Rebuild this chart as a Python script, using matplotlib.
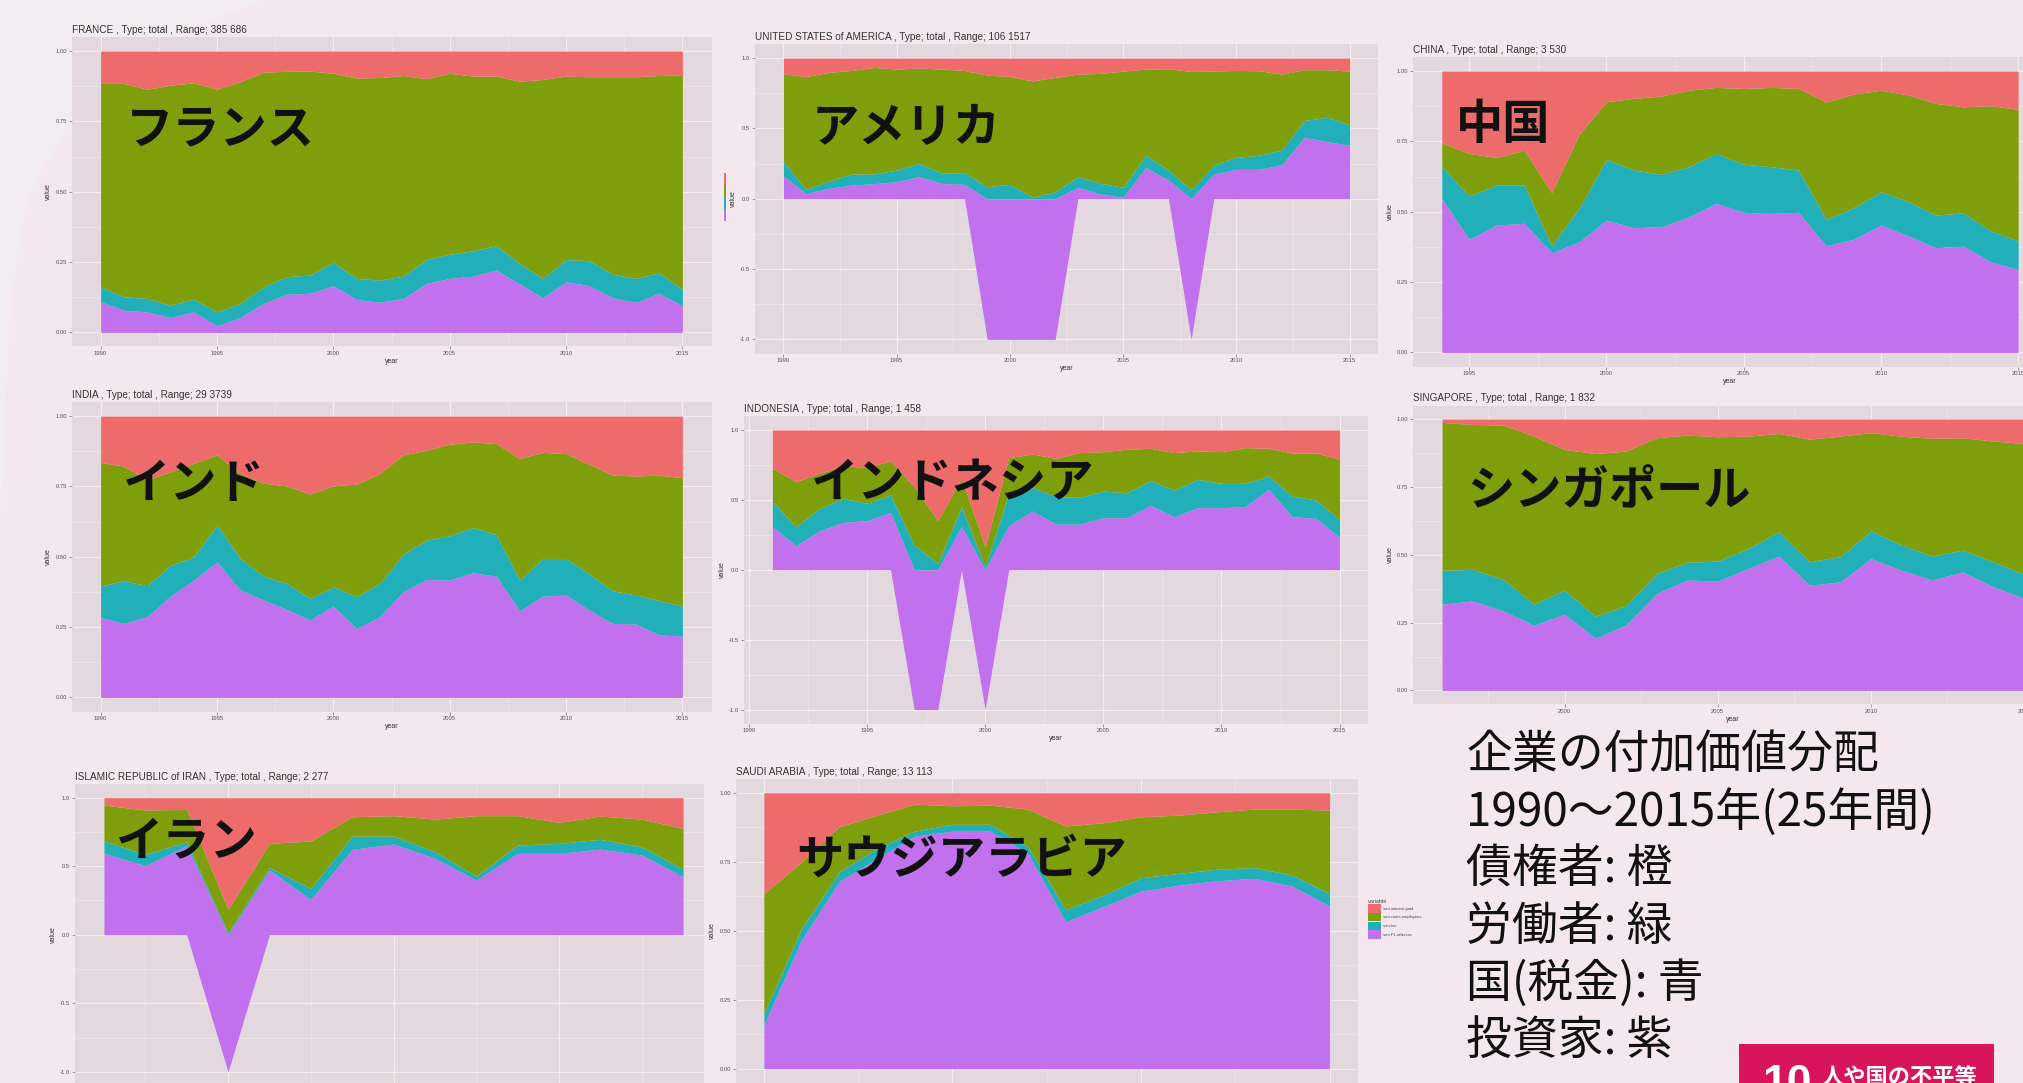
import numpy as np
import matplotlib
matplotlib.use("Agg")
import matplotlib.pyplot as plt
from matplotlib.patches import Rectangle, Patch, Polygon

plt.rcParams['font.family'] = ['Liberation Sans', 'Noto Sans CJK JP', 'DejaVu Sans']

W, H = 2023, 1083
BG = '#f4e7ee'
PANEL = '#e2d8de'
RED = '#ee6b6c'
GREEN = '#7f9e0b'
TEAL = '#21b0b9'
PURPLE = '#c171ee'
JP = ['Noto Sans CJK JP', 'DejaVu Sans']

VARIABLES = ['sum.interest.paid', 'sum.costs.employees', 'sum.tax', 'sum.PL.after.tax']

# ---------------- data (shares of value added) ----------------
FR_YEARS = list(range(1990, 2016))
FR_PL = [0.109, 0.079, 0.073, 0.053, 0.073, 0.024, 0.053, 0.103, 0.136, 0.139, 0.166, 0.117, 0.107,
         0.121, 0.174, 0.192, 0.200, 0.222, 0.172, 0.123, 0.180, 0.166, 0.123, 0.107, 0.139, 0.095]
FR_TAX = [0.053, 0.048, 0.048, 0.044, 0.045, 0.049, 0.050, 0.059, 0.062, 0.065, 0.083, 0.075, 0.079,
          0.079, 0.085, 0.086, 0.090, 0.086, 0.073, 0.069, 0.079, 0.089, 0.084, 0.085, 0.073, 0.058]
FR_COSTS = [0.723, 0.758, 0.743, 0.782, 0.769, 0.792, 0.788, 0.763, 0.730, 0.725, 0.672, 0.712, 0.720,
            0.713, 0.643, 0.643, 0.621, 0.603, 0.648, 0.707, 0.652, 0.654, 0.702, 0.717, 0.701, 0.763]
FR_INTEREST = [0.115, 0.115, 0.136, 0.121, 0.113, 0.135, 0.109, 0.075, 0.072, 0.071, 0.079, 0.096, 0.094,
               0.087, 0.098, 0.079, 0.089, 0.089, 0.107, 0.101, 0.089, 0.091, 0.091, 0.091, 0.087, 0.084]

US_YEARS = list(range(1990, 2016))
US_PL = [0.162, 0.038, 0.074, 0.097, 0.107, 0.121, 0.157, 0.109, 0.102, -1.0, -1.0, -1.0, -1.0,
         0.081, 0.033, 0.010, 0.221, 0.133, -1.0, 0.176, 0.209, 0.209, 0.242, 0.437, 0.406, 0.380]
US_TAX = [0.102, 0.029, 0.052, 0.079, 0.069, 0.083, 0.095, 0.072, 0.083, 0.086, 0.102, 0.010, 0.050,
          0.076, 0.076, 0.071, 0.088, 0.071, 0.062, 0.064, 0.086, 0.100, 0.105, 0.119, 0.174, 0.145]
US_COSTS = [0.624, 0.802, 0.772, 0.736, 0.757, 0.718, 0.677, 0.741, 0.727, 0.793, 0.767, 0.828, 0.812,
            0.729, 0.782, 0.826, 0.613, 0.720, 0.843, 0.667, 0.617, 0.601, 0.539, 0.361, 0.337, 0.382]
US_INTEREST = [0.112, 0.131, 0.102, 0.088, 0.067, 0.078, 0.071, 0.078, 0.088, 0.121, 0.131, 0.162, 0.138,
               0.114, 0.109, 0.093, 0.078, 0.076, 0.095, 0.093, 0.088, 0.090, 0.114, 0.083, 0.083, 0.093]

CN_YEARS = list(range(1994, 2016))
CN_PL = [0.547, 0.402, 0.453, 0.459, 0.354, 0.393, 0.470, 0.443, 0.447, 0.482, 0.530,
         0.498, 0.494, 0.498, 0.379, 0.402, 0.453, 0.414, 0.372, 0.378, 0.322, 0.295]
CN_TAX = [0.113, 0.154, 0.142, 0.136, 0.025, 0.119, 0.216, 0.205, 0.186, 0.178, 0.177,
          0.171, 0.166, 0.150, 0.094, 0.112, 0.118, 0.122, 0.116, 0.118, 0.110, 0.101]
CN_COSTS = [0.085, 0.151, 0.098, 0.124, 0.189, 0.263, 0.205, 0.255, 0.278, 0.272, 0.235,
            0.269, 0.282, 0.290, 0.417, 0.404, 0.361, 0.379, 0.397, 0.377, 0.445, 0.468]
CN_INTEREST = [0.255, 0.293, 0.307, 0.281, 0.432, 0.225, 0.109, 0.097, 0.089, 0.068, 0.058,
               0.062, 0.058, 0.062, 0.110, 0.082, 0.068, 0.085, 0.115, 0.127, 0.123, 0.136]

IN_YEARS = list(range(1990, 2016))
IN_PL = [0.284, 0.263, 0.287, 0.360, 0.417, 0.482, 0.382, 0.346, 0.313, 0.275, 0.325, 0.245, 0.287,
         0.376, 0.419, 0.417, 0.443, 0.431, 0.308, 0.360, 0.364, 0.310, 0.263, 0.261, 0.222, 0.218]
IN_TAX = [0.112, 0.152, 0.110, 0.110, 0.083, 0.131, 0.112, 0.085, 0.092, 0.077, 0.068, 0.113, 0.118,
          0.133, 0.140, 0.158, 0.161, 0.148, 0.109, 0.134, 0.130, 0.128, 0.116, 0.103, 0.122, 0.107]
IN_COSTS = [0.439, 0.407, 0.376, 0.332, 0.332, 0.249, 0.302, 0.330, 0.347, 0.371, 0.359, 0.400, 0.391,
            0.353, 0.320, 0.325, 0.304, 0.323, 0.432, 0.377, 0.373, 0.390, 0.411, 0.423, 0.446, 0.456]
IN_INTEREST = [0.165, 0.178, 0.227, 0.198, 0.168, 0.138, 0.204, 0.239, 0.248, 0.277, 0.248, 0.242, 0.204,
               0.138, 0.121, 0.100, 0.092, 0.098, 0.151, 0.129, 0.133, 0.172, 0.210, 0.213, 0.210, 0.219]

ID_YEARS = list(range(1991, 2016))
ID_PL = [0.308, 0.172, 0.279, 0.339, 0.351, 0.411, -1.0, -1.0, 0.308, -1.0, 0.315, 0.420, 0.327,
         0.327, 0.372, 0.372, 0.461, 0.379, 0.444, 0.444, 0.451, 0.575, 0.379, 0.368, 0.232]
ID_TAX = [0.179, 0.136, 0.160, 0.172, 0.124, 0.124, 0.177, 0.045, 0.143, 0.021, 0.232, 0.169, 0.196,
          0.191, 0.191, 0.179, 0.176, 0.191, 0.203, 0.174, 0.167, 0.096, 0.148, 0.131, 0.124]
ID_COSTS = [0.239, 0.322, 0.251, 0.231, 0.258, 0.243, 0.417, 0.306, 0.203, 0.144, 0.255, 0.239, 0.274,
            0.320, 0.282, 0.311, 0.232, 0.268, 0.203, 0.227, 0.256, 0.198, 0.308, 0.336, 0.436]
ID_INTEREST = [0.274, 0.370, 0.310, 0.258, 0.267, 0.222, 0.406, 0.649, 0.346, 0.835, 0.198, 0.172, 0.203,
               0.162, 0.155, 0.138, 0.131, 0.162, 0.150, 0.155, 0.126, 0.131, 0.165, 0.165, 0.208]

SG_YEARS = list(range(1996, 2016))
SG_PL = [0.318, 0.330, 0.293, 0.240, 0.281, 0.192, 0.241, 0.357, 0.407, 0.403,
         0.450, 0.495, 0.388, 0.400, 0.486, 0.443, 0.407, 0.437, 0.382, 0.339]
SG_TAX = [0.125, 0.116, 0.116, 0.078, 0.089, 0.082, 0.071, 0.074, 0.065, 0.074,
          0.073, 0.090, 0.086, 0.093, 0.102, 0.093, 0.088, 0.080, 0.092, 0.089]
SG_COSTS = [0.545, 0.534, 0.569, 0.619, 0.518, 0.599, 0.570, 0.500, 0.469, 0.458,
            0.414, 0.362, 0.452, 0.444, 0.362, 0.401, 0.434, 0.414, 0.445, 0.482]
SG_INTEREST = [0.012, 0.020, 0.022, 0.063, 0.112, 0.127, 0.118, 0.069, 0.059, 0.065,
               0.063, 0.053, 0.074, 0.063, 0.050, 0.063, 0.071, 0.069, 0.081, 0.090]

IR_YEARS = list(range(2001, 2016))
IR_PL = [0.594, 0.504, 0.650, -1.0, 0.472, 0.258, 0.623, 0.662, 0.557, 0.399, 0.594, 0.594, 0.625, 0.582, 0.423]
IR_TAX = [0.090, 0.082, 0.029, 0.015, 0.019, 0.080, 0.097, 0.058, 0.049, 0.029, 0.061, 0.073, 0.071, 0.060, 0.056]
IR_COSTS = [0.262, 0.324, 0.236, 0.170, 0.176, 0.346, 0.141, 0.149, 0.238, 0.441, 0.214, 0.153, 0.170, 0.202, 0.297]
IR_INTEREST = [0.054, 0.090, 0.085, 0.815, 0.333, 0.316, 0.139, 0.131, 0.156, 0.131, 0.131, 0.180, 0.134, 0.156, 0.224]

SA_YEARS = list(range(2000, 2016))
SA_PL = [0.158, 0.466, 0.678, 0.762, 0.843, 0.861, 0.861, 0.780, 0.533, 0.587, 0.644, 0.665, 0.681, 0.690, 0.662, 0.589]
SA_TAX = [0.042, 0.042, 0.036, 0.036, 0.018, 0.025, 0.025, 0.024, 0.044, 0.042, 0.048, 0.043, 0.042, 0.039, 0.040, 0.046]
SA_COSTS = [0.433, 0.242, 0.163, 0.121, 0.098, 0.067, 0.069, 0.137, 0.303, 0.262, 0.221, 0.211, 0.208, 0.212, 0.239, 0.302]
SA_INTEREST = [0.367, 0.250, 0.123, 0.081, 0.041, 0.047, 0.045, 0.059, 0.120, 0.109, 0.087, 0.081, 0.069, 0.059, 0.059, 0.063]

TITLES = {
    'FR': 'FRANCE , Type; total , Range; 385 686',
    'US': 'UNITED STATES of AMERICA , Type; total , Range; 106 1517',
    'CN': 'CHINA , Type; total , Range; 3 530',
    'IN': 'INDIA , Type; total , Range; 29 3739',
    'ID': 'INDONESIA , Type; total , Range; 1 458',
    'SG': 'SINGAPORE , Type; total , Range; 1 832',
    'IR': 'ISLAMIC REPUBLIC of IRAN , Type; total , Range; 2 277',
    'SA': 'SAUDI ARABIA , Type; total , Range; 13 113',
}
JP_NAMES = {'FR': 'フランス', 'US': 'アメリカ', 'CN': '中国', 'IN': 'インド',
            'ID': 'インドネシア', 'SG': 'シンガポール', 'IR': 'イラン', 'SA': 'サウジアラビア'}
NOTE_LINES = ['企業の付加価値分配', '1990～2015年(25年間)', '債権者: 橙', '労働者: 緑', '国(税金): 青', '投資家: 紫']

# ---------------- layout (pixel positions on the slide) ----------------
RECTS = {
    'FR': (71.5, 37, 711.5, 346.5), 'US': (755, 44, 1378, 353.5), 'CN': (1413, 57, 2047, 366.5),
    'IN': (71.5, 402, 711.5, 711.5), 'ID': (744, 416, 1368, 723.5), 'SG': (1413, 405.5, 2053, 704),
    'IR': (75, 784, 712, 1085.5), 'SA': (735.5, 779, 1358, 1082.5),
}
LABEL_POS = {'FR': (126, 129), 'US': (812, 128), 'CN': (1456, 125), 'IN': (122, 484),
             'ID': (810, 483), 'SG': (1467, 491), 'IR': (115, 842), 'SA': (796, 860)}

fig = plt.figure(figsize=(W / 100, H / 100), dpi=100, facecolor=BG)


def fx(x):
    return x / W


def fy(y):
    return 1 - y / H


# light corner of the slide background
corner = [(0, 0), (265, 0), (200, 25), (150, 50), (115, 75), (92, 100), (60, 140), (40, 175),
          (28, 200), (18, 250), (12, 300), (9, 333), (6, 400), (3, 470), (0, 520)]
fig.add_artist(Polygon([(fx(a), fy(b)) for a, b in corner], closed=True, transform=fig.transFigure,
                       facecolor='#f1ecef', edgecolor='none', zorder=-5))


def draw_panel(key, years, pl, tax, costs, interest, ylab_neg, xmaj, xmin, zorder=0, show_x=True):
    l, t, r, b = RECTS[key]
    ax = fig.add_axes([fx(l), fy(b), (r - l) / W, (b - t) / H], zorder=zorder)
    ax.set_facecolor(PANEL)
    x = np.asarray(years, float)
    pos = np.zeros_like(x)
    neg = np.zeros_like(x)
    for vals, col in zip([pl, tax, costs, interest], [PURPLE, TEAL, GREEN, RED]):
        v = np.asarray(vals, float)
        ymin = np.where(v >= 0, pos, neg + v)
        ymax = np.where(v >= 0, pos + v, neg)
        ax.fill_between(x, ymin, ymax, color=col, lw=0, zorder=2)
        pos = pos + np.clip(v, 0, None)
        neg = neg + np.clip(v, None, 0)
    span = x[-1] - x[0]
    ax.set_xlim(x[0] - 0.05 * span, x[-1] + 0.05 * span)
    lo, hi = min(neg.min(), 0.0), pos.max()
    ax.set_ylim(lo - 0.05 * (hi - lo), hi + 0.05 * (hi - lo))
    if ylab_neg:
        ax.set_yticks([-1, -0.5, 0, 0.5, 1])
        ax.set_yticklabels(['-1.0', '-0.5', '0.0', '0.5', '1.0'])
        ax.set_yticks([-0.75, -0.25, 0.25, 0.75], minor=True)
    else:
        ax.set_yticks([0, 0.25, 0.5, 0.75, 1])
        ax.set_yticklabels(['0.00', '0.25', '0.50', '0.75', '1.00'])
        ax.set_yticks([0.125, 0.375, 0.625, 0.875], minor=True)
    ax.set_xticks(xmaj)
    ax.set_xticklabels([str(v) for v in xmaj] if show_x else [])
    ax.set_xticks(xmin, minor=True)
    ax.set_axisbelow(True)
    ax.grid(which='major', color='white', lw=0.9, alpha=0.6)
    ax.grid(which='minor', color='white', lw=0.45, alpha=0.45)
    for s in ax.spines.values():
        s.set_visible(False)
    ax.tick_params(which='major', length=2, width=0.5, color='#777', labelsize=4.2,
                   labelcolor='#555', pad=1.5)
    ax.tick_params(which='minor', length=0)
    if show_x:
        ax.set_xlabel('year', fontsize=5, color='#333', labelpad=1.5)
    ax.set_ylabel('value', fontsize=5, color='#333', labelpad=2)
    ax.set_title(TITLES[key], loc='left', fontsize=7.2, color='#333', pad=3)
    lx, ly = LABEL_POS[key]
    fig.text(fx(lx), fy(ly), JP_NAMES[key], family=JP, fontsize=34, fontweight='bold',
             color='#111', ha='left', va='center', zorder=10)
    return ax


five = [1990, 1995, 2000, 2005, 2010, 2015]
five_minor = [1992.5, 1997.5, 2002.5, 2007.5, 2012.5]
draw_panel('FR', FR_YEARS, FR_PL, FR_TAX, FR_COSTS, FR_INTEREST, False, five, five_minor)
draw_panel('US', US_YEARS, US_PL, US_TAX, US_COSTS, US_INTEREST, True, five, five_minor)
draw_panel('CN', CN_YEARS, CN_PL, CN_TAX, CN_COSTS, CN_INTEREST, False,
           [1995, 2000, 2005, 2010, 2015], [1997.5, 2002.5, 2007.5, 2012.5])
draw_panel('IN', IN_YEARS, IN_PL, IN_TAX, IN_COSTS, IN_INTEREST, False, five, five_minor)
draw_panel('ID', ID_YEARS, ID_PL, ID_TAX, ID_COSTS, ID_INTEREST, True, five, five_minor)
draw_panel('SG', SG_YEARS, SG_PL, SG_TAX, SG_COSTS, SG_INTEREST, False,
           [2000, 2005, 2010, 2015], [1997.5, 2002.5, 2007.5, 2012.5])
draw_panel('IR', IR_YEARS, IR_PL, IR_TAX, IR_COSTS, IR_INTEREST, True,
           [2004, 2008, 2012], [2002, 2006, 2010, 2014], show_x=False)
# background of the Saudi Arabia picture, covering the right edge of the Iran panel
fig.add_artist(Rectangle((fx(704), fy(1083)), (735 - 704) / W, (1083 - 760) / H, transform=fig.transFigure,
                         facecolor=BG, edgecolor='none', zorder=1))
draw_panel('SA', SA_YEARS, SA_PL, SA_TAX, SA_COSTS, SA_INTEREST, False,
           [2000, 2005, 2010, 2015], [2002.5, 2007.5, 2012.5], zorder=2, show_x=False)

# tiny legend remnant in the US picture
for i, col in enumerate([RED, GREEN, TEAL, PURPLE]):
    fig.add_artist(Rectangle((fx(724), fy(185 + 12 * i)), 2 / W, 12 / H, transform=fig.transFigure,
                             facecolor=col, edgecolor='none', zorder=3))

# legend of the Saudi Arabia picture
handles = [Patch(facecolor=c, edgecolor='none') for c in [RED, GREEN, TEAL, PURPLE]]
leg = fig.legend(handles, VARIABLES, title='variable', loc='upper left',
                 bbox_to_anchor=(fx(1368), fy(899)), fontsize=3, title_fontsize=4, frameon=False,
                 handlelength=3.0, handleheight=2.75, labelspacing=0.05, handletextpad=0.6,
                 borderpad=0, borderaxespad=0, alignment='left')
for txt in leg.get_texts():
    txt.set_color('#444')
leg.get_title().set_color('#444')

# note block
for i, line in enumerate(NOTE_LINES):
    fig.text(fx(1466), fy(755 + 57.2 * i), line, family=JP, fontsize=33, color='#111',
             ha='left', va='center', zorder=10)

# SDG badge
fig.add_artist(Rectangle((fx(1739), fy(1090)), (1994 - 1739) / W, (1090 - 1044) / H,
                         transform=fig.transFigure, facecolor='#d8145d', edgecolor='none', zorder=5))
fig.text(fx(1762), fy(1064), '10', fontsize=32, fontweight='bold', color='white',
         ha='left', va='top', zorder=6)
fig.text(fx(1821), fy(1066), '人や国の不平等', family=JP, fontsize=16, fontweight='bold',
         color='white', ha='left', va='top', zorder=6)

fig.savefig('out.png', dpi=100, facecolor=BG)
